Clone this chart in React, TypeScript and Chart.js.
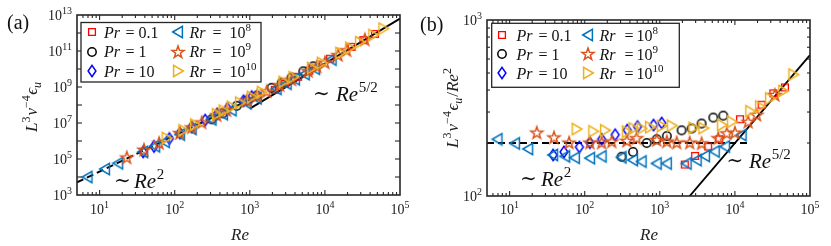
import React, { useEffect, useRef } from 'react';
import { Chart, registerables } from 'chart.js';
Chart.register(...registerables);

const FONT = '"Liberation Serif", "DejaVu Serif", serif';
const AXIS = '#262626';

// ---------- data (panel b: L^3 nu^-4 eps_u / Re^2) ----------
const reRr8 = [6.9, 11.8, 17.7, 38, 55, 74, 118, 168, 310, 440, 573, 910, 1240, 2280, 3100, 4000, 5400, 7400, 12300];
const compRr8 = [210, 199, 185, 171, 168, 165, 164, 168, 166, 160, 157, 153, 153, 153, 160, 169, 179, 191, 222];
const reRr9 = [23, 39, 62, 117, 168, 229, 363, 490, 910, 1240, 1680, 2500, 3600, 6000, 7800, 10000, 15000, 19500, 34000];
const compRr9 = [229, 215, 201, 201, 201, 204, 206, 213, 208, 204, 201, 201, 199, 213, 227, 229, 264, 289, 375];
const reRr10 = [78, 130, 186, 363, 447, 573, 740, 1060, 1440, 2800, 3800, 6700, 9100, 16000, 21600, 29300, 44000, 60000];
const compRr10 = [240, 233, 236, 232, 242, 242, 246, 250, 251, 244, 243, 253, 264, 303, 322, 358, 395, 490];
const rePr01 = [2150, 2950, 4400, 6200, 11700, 22700, 32500, 46400];
const compPr01 = [151, 169, 191, 210, 273, 330, 383, 414];
const rePr1 = [310, 440, 670, 910, 1240, 1950, 2660, 3600, 5150, 7000];
const compPr1 = [167, 178, 200, 210, 219, 236, 242, 258, 279, 286];
const rePr10 = [38, 53, 85, 117, 168, 255, 369, 505, 825, 1060];
const compPr10 = [171, 178, 190, 201, 210, 223, 237, 248, 253, 260];

// reference scaling lines
const dashReA = [5, 1000];
const dashValA = [5e3, 2e8];
const solidReA = [1000, 1e5];
const solidValA = [6.3e7, 6.3e12];
const dashReB = [5, 16000];
const dashValB = [200, 200];
const solidReB = [2500, 1e5];
const solidValB = [100, 632];

// tick labels / legend text
const xTickExps = [1, 2, 3, 4, 5];
const yTickExpsA = [3, 5, 7, 9, 11, 13];
const yTickExpsB = [2, 3];
const prValues = ['0.1', '1', '10'];
const rrExps = ['8', '9', '10'];

// ---------- drawing helpers ----------
type Part = { t: string; it?: boolean; sup?: boolean; sub?: boolean; dx?: number };

function fontOf(p: Part, size: number) {
  const s = p.sup || p.sub ? Math.round(size * 0.7) : size;
  return `${p.it ? 'italic ' : ''}${s}px ${FONT}`;
}
function richWidth(ctx: CanvasRenderingContext2D, parts: Part[], size: number) {
  let w = 0;
  for (const p of parts) {
    ctx.font = fontOf(p, size);
    w += ctx.measureText(p.t).width + (p.dx || 0);
  }
  return w;
}
function drawRich(ctx: CanvasRenderingContext2D, parts: Part[], x: number, y: number, size: number, align: 'left' | 'center' | 'right' = 'left', color = '#111') {
  const total = richWidth(ctx, parts, size);
  let cx = align === 'left' ? x : align === 'center' ? x - total / 2 : x - total;
  ctx.textAlign = 'left';
  ctx.textBaseline = 'alphabetic';
  ctx.fillStyle = color;
  for (const p of parts) {
    cx += p.dx || 0;
    ctx.font = fontOf(p, size);
    const dy = p.sup ? -size * 0.42 : p.sub ? size * 0.22 : 0;
    ctx.fillText(p.t, cx, y + dy);
    cx += ctx.measureText(p.t).width;
  }
}

type MarkerKind = 'sq' | 'ci' | 'di' | 'lt' | 'st' | 'rt';
const MARKER_COLORS: Record<MarkerKind, string> = {
  sq: '#FF0000', ci: '#000000', di: '#0000FF', lt: '#0072BD', st: '#D95319', rt: '#EDB120',
};
function makeMarker(kind: MarkerKind): HTMLCanvasElement {
  const S = 20;
  const c = document.createElement('canvas');
  c.width = S; c.height = S;
  const g = c.getContext('2d')!;
  const m = S / 2;
  g.strokeStyle = MARKER_COLORS[kind];
  g.lineWidth = 1.5;
  g.lineJoin = 'miter';
  g.beginPath();
  if (kind === 'sq') {
    g.lineWidth = 1.3;
    g.rect(m - 3.4, m - 3.4, 6.8, 6.8);
  } else if (kind === 'ci') {
    g.arc(m, m, 4.2, 0, Math.PI * 2);
  } else if (kind === 'di') {
    g.moveTo(m, m - 5.6); g.lineTo(m + 3.9, m); g.lineTo(m, m + 5.6); g.lineTo(m - 3.9, m); g.closePath();
  } else if (kind === 'lt') {
    g.moveTo(m - 5.3, m); g.lineTo(m + 4.4, m - 5.7); g.lineTo(m + 4.4, m + 5.7); g.closePath();
  } else if (kind === 'rt') {
    g.moveTo(m + 5.3, m); g.lineTo(m - 4.4, m - 5.7); g.lineTo(m - 4.4, m + 5.7); g.closePath();
  } else {
    const R = 6.3, r = 2.5;
    for (let i = 0; i < 10; i++) {
      const a = -Math.PI / 2 + (i * Math.PI) / 5;
      const rr = i % 2 === 0 ? R : r;
      const px = m + rr * Math.cos(a), py = m + 0.4 + rr * Math.sin(a);
      if (i === 0) g.moveTo(px, py); else g.lineTo(px, py);
    }
    g.closePath();
  }
  g.stroke();
  return c;
}

interface LegendCfg {
  box: [number, number, number, number];
  rows: number[];
  c1: { mk: number; name: number; eq: number; val: number };
  c2: { mk: number; name: number; eq: number; val: number };
}
interface PanelCfg {
  ox: number; w: number;
  pad: { left: number; right: number; top: number; bottom: number };
  compensated: boolean;
  yMin: number; yMax: number;
  yLabelExps: number[];
  yMinor: boolean;
  dashRe: number[]; dashVal: number[]; solidRe: number[]; solidVal: number[];
  tag: string; tagPos: [number, number];
  yTitle: Part[]; yTitlePos: [number, number];
  xTitlePos: [number, number];
  annA: { tx: number; rx: number; y: number };
  annB: { tx: number; rx: number; y: number };
  legend: LegendCfg;
}

const yTitleA: Part[] = [
  { t: 'L', it: true }, { t: '3', sup: true }, { t: 'ν', it: true, dx: 1 }, { t: '−4', sup: true },
  { t: 'ϵ', it: true, dx: 0.5 }, { t: 'u', it: true, sub: true },
];
const yTitleB: Part[] = [...yTitleA, { t: '/', dx: 1 }, { t: 'Re', it: true }, { t: '2', sup: true }];

const PANEL_A: PanelCfg = {
  ox: 0, w: 420,
  pad: { left: 77, right: 20, top: 15, bottom: 51 },
  compensated: false,
  yMin: 1e3, yMax: 1e13,
  yLabelExps: yTickExpsA, yMinor: false,
  dashRe: dashReA, dashVal: dashValA, solidRe: solidReA, solidVal: solidValA,
  tag: '(a)', tagPos: [7, 29],
  yTitle: yTitleA, yTitlePos: [37, 107],
  xTitlePos: [240, 240],
  annA: { tx: 122.5, rx: 134, y: 188 },
  annB: { tx: 321.5, rx: 336, y: 101 },
  legend: {
    box: [81, 22.5, 180, 59.5], rows: [32.3, 51.7, 71],
    c1: { mk: 91.7, name: 104, eq: 125.5, val: 138.5 },
    c2: { mk: 177.7, name: 189.5, eq: 212.5, val: 229.5 },
  },
};
const PANEL_B: PanelCfg = {
  ox: 420, w: 411,
  pad: { left: 67, right: 21, top: 20, bottom: 50 },
  compensated: true,
  yMin: 100, yMax: 1000,
  yLabelExps: yTickExpsB, yMinor: true,
  dashRe: dashReB, dashVal: dashValB, solidRe: solidReB, solidVal: solidValB,
  tag: '(b)', tagPos: [420, 31],
  yTitle: yTitleB, yTitlePos: [458, 108],
  xTitlePos: [649, 240],
  annA: { tx: 528.5, rx: 541, y: 186 },
  annB: { tx: 735, rx: 749, y: 168 },
  legend: {
    box: [491.7, 23.3, 187.6, 64], rows: [35, 54.3, 73.3],
    c1: { mk: 502.3, name: 516.5, eq: 538.5, val: 551.5 },
    c2: { mk: 588.3, name: 599.5, eq: 624.5, val: 636.5 },
  },
};

function drawDecor(chart: any, cfg: PanelCfg, mk: Record<MarkerKind, HTMLCanvasElement>) {
  const ctx: CanvasRenderingContext2D = chart.ctx;
  const xs = chart.scales.x, ys = chart.scales.y;
  const ox = cfg.ox;
  const { left, right, top, bottom } = chart.chartArea;
  const L = left + ox, R = right + ox;
  ctx.save();
  ctx.translate(-ox, 0);
  const seg = (x1: number, y1: number, x2: number, y2: number) => {
    ctx.beginPath(); ctx.moveTo(x1, y1); ctx.lineTo(x2, y2); ctx.stroke();
  };
  // ticks
  ctx.strokeStyle = AXIS;
  ctx.lineWidth = 1.1;
  for (let e = 0; e <= 5; e++) {
    for (let m = 1; m <= 9; m++) {
      const v = m * Math.pow(10, e);
      if (v <= xs.min || v >= xs.max) continue;
      const px = xs.getPixelForValue(v) + ox;
      const len = m === 1 ? 5 : 3;
      seg(px, bottom, px, bottom - len);
      seg(px, top, px, top + len);
    }
  }
  const e0 = Math.round(Math.log10(cfg.yMin)), e1 = Math.round(Math.log10(cfg.yMax));
  for (let e = e0; e <= e1; e++) {
    for (let m = 1; m <= 9; m++) {
      if (m > 1 && !cfg.yMinor) continue;
      const v = m * Math.pow(10, e);
      if (v <= cfg.yMin || v >= cfg.yMax) continue;
      const py = ys.getPixelForValue(v);
      const len = m === 1 ? 5 : 3;
      seg(L, py, L + len, py);
      seg(R, py, R - len, py);
    }
  }
  // frame
  ctx.lineWidth = 1.6;
  ctx.strokeRect(L, top, R - L, bottom - top);

  // tick labels
  for (const e of xTickExps) {
    const px = xs.getPixelForValue(Math.pow(10, e)) + ox;
    drawRich(ctx, [{ t: '10' }, { t: String(e), sup: true }], px, 213.5, 14, 'center', '#222');
  }
  for (const e of cfg.yLabelExps) {
    const py = ys.getPixelForValue(Math.pow(10, e));
    drawRich(ctx, [{ t: '10' }, { t: String(e), sup: true }], L - 5, py + 5, 14, 'right', '#222');
  }
  // axis titles
  drawRich(ctx, [{ t: 'Re', it: true }], cfg.xTitlePos[0], cfg.xTitlePos[1], 17, 'center', '#222');
  ctx.save();
  ctx.translate(cfg.yTitlePos[0], cfg.yTitlePos[1]);
  ctx.rotate(-Math.PI / 2);
  drawRich(ctx, cfg.yTitle, 0, 0, 17, 'center', '#222');
  ctx.restore();
  // panel tag
  drawRich(ctx, [{ t: cfg.tag }], cfg.tagPos[0], cfg.tagPos[1], 20, 'left', '#111');
  // annotations
  const ann = (a: { tx: number; rx: number; y: number }, exp: string) => {
    ctx.font = `20px ${FONT}`;
    ctx.textAlign = 'center';
    ctx.fillStyle = '#111';
    ctx.fillText('∼', a.tx, a.y - 1);
    drawRich(ctx, [{ t: 'Re', it: true }, { t: exp, sup: true, dx: 0.5 }], a.rx, a.y, 21, 'left', '#111');
  };
  ann(cfg.annA, '2');
  ann(cfg.annB, '5/2');

  // legend
  const lg = cfg.legend;
  ctx.fillStyle = '#fff';
  ctx.fillRect(lg.box[0], lg.box[1], lg.box[2], lg.box[3]);
  ctx.strokeStyle = AXIS;
  ctx.lineWidth = 1.3;
  ctx.strokeRect(lg.box[0], lg.box[1], lg.box[2], lg.box[3]);
  const col1: MarkerKind[] = ['sq', 'ci', 'di'];
  const col2: MarkerKind[] = ['lt', 'st', 'rt'];
  for (let i = 0; i < 3; i++) {
    const cy = lg.rows[i];
    const base = cy + 5.5;
    const m1 = mk[col1[i]], m2 = mk[col2[i]];
    ctx.drawImage(m1, Math.round(lg.c1.mk - m1.width / 2), Math.round(cy - m1.height / 2));
    ctx.drawImage(m2, Math.round(lg.c2.mk - m2.width / 2), Math.round(cy - m2.height / 2));
    drawRich(ctx, [{ t: 'Pr', it: true }], lg.c1.name, base, 16, 'left', '#111');
    drawRich(ctx, [{ t: '=' }], lg.c1.eq, base, 16, 'left', '#111');
    drawRich(ctx, [{ t: prValues[i] }], lg.c1.val, base, 16, 'left', '#111');
    drawRich(ctx, [{ t: 'Rr', it: true }], lg.c2.name, base, 16, 'left', '#111');
    drawRich(ctx, [{ t: '=' }], lg.c2.eq, base, 16, 'left', '#111');
    drawRich(ctx, [{ t: '10' }, { t: rrExps[i], sup: true }], lg.c2.val, base, 16, 'left', '#111');
  }
  ctx.restore();
}

function Panel({ cfg }: { cfg: PanelCfg }) {
  const ref = useRef<HTMLCanvasElement>(null);
  useEffect(() => {
    const canvas = ref.current!;
    const mk: Record<MarkerKind, HTMLCanvasElement> = {
      sq: makeMarker('sq'), ci: makeMarker('ci'), di: makeMarker('di'),
      lt: makeMarker('lt'), st: makeMarker('st'), rt: makeMarker('rt'),
    };
    const toPts = (re: number[], comp: number[]) =>
      re.map((x, i) => ({ x, y: cfg.compensated ? comp[i] : comp[i] * x * x }));
    const linePts = (re: number[], val: number[]) => re.map((x, i) => ({ x, y: val[i] }));
    const scatter = (label: string, data: any[], kind: MarkerKind, order: number) => ({
      label, data, order,
      showLine: false,
      pointStyle: mk[kind],
      pointRadius: 5,
      borderColor: MARKER_COLORS[kind],
      backgroundColor: 'transparent',
    });
    const line = (label: string, data: any[], dashed: boolean) => ({
      label, data, order: 20,
      showLine: true,
      pointRadius: 0,
      borderColor: '#000',
      borderWidth: 1.9,
      borderDash: dashed ? [7, 4] : [],
      backgroundColor: 'transparent',
      fill: false,
      tension: 0,
    });
    const chart = new Chart(canvas, {
      type: 'scatter',
      data: {
        datasets: [
          line('dashed ~Re^2', linePts(cfg.dashRe, cfg.dashVal), true),
          line('solid ~Re^5/2', linePts(cfg.solidRe, cfg.solidVal), false),
          scatter('Pr = 0.1', toPts(rePr01, compPr01), 'sq', 7),
          scatter('Pr = 1', toPts(rePr1, compPr1), 'ci', 6),
          scatter('Pr = 10', toPts(rePr10, compPr10), 'di', 5),
          scatter('Rr = 1e8', toPts(reRr8, compRr8), 'lt', 4),
          scatter('Rr = 1e9', toPts(reRr9, compRr9), 'st', 3),
          scatter('Rr = 1e10', toPts(reRr10, compRr10), 'rt', 2),
        ] as any,
      },
      options: {
        animation: false,
        responsive: false,
        maintainAspectRatio: false,
        devicePixelRatio: 1,
        layout: { padding: cfg.pad },
        scales: {
          x: { type: 'logarithmic', min: 5, max: 1e5, display: false },
          y: { type: 'logarithmic', min: cfg.yMin, max: cfg.yMax, display: false },
        },
        plugins: { legend: { display: false }, tooltip: { enabled: false } },
        events: [],
      },
      plugins: [{ id: 'decor', afterDraw: (c: any) => drawDecor(c, cfg, mk) }],
    } as any);
    return () => chart.destroy();
  }, [cfg]);
  return (
    <canvas
      ref={ref}
      width={cfg.w}
      height={246}
      style={{ position: 'absolute', left: cfg.ox, top: 0, width: cfg.w, height: 246 }}
    />
  );
}

export default function App() {
  return (
    <div style={{ position: 'absolute', left: 0, top: 0, width: 831, height: 246, background: '#fff', overflow: 'hidden' }}>
      <Panel cfg={PANEL_A} />
      <Panel cfg={PANEL_B} />
    </div>
  );
}
